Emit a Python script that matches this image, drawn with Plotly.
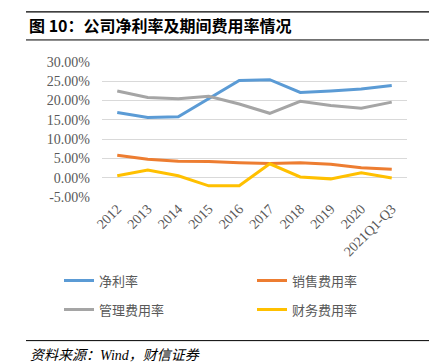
import plotly.graph_objects as go

categories = ["2012", "2013", "2014", "2015", "2016", "2017", "2018", "2019", "2020", "2021Q1-Q3"]
net_margin = [16.9, 15.6, 15.8, 20.5, 25.2, 25.4, 22.1, 22.5, 23.0, 23.9]
sales_exp = [5.8, 4.8, 4.3, 4.2, 3.9, 3.7, 3.9, 3.5, 2.6, 2.2]
admin_exp = [22.5, 20.8, 20.5, 21.1, 19.1, 16.7, 19.8, 18.7, 18.0, 19.6]
fin_exp = [0.5, 2.0, 0.5, -2.1, -2.1, 3.6, 0.2, -0.3, 1.3, -0.1]
y_ticks = [-5, 0, 5, 10, 15, 20, 25, 30]

W, H = 437, 364
L, R, T, B = 94, 399, 54, 188.7
pw, ph = R - L, B - T

def px(x):
    return (x - L) / pw

def py(y):
    return (B - y) / ph

serif = "Liberation Serif, Times New Roman, Noto Sans CJK SC, serif"
cjk = "Noto Sans CJK SC, sans-serif"

fig = go.Figure()
series = [
    ("净利率", net_margin, "#5B9BD5", "legend"),
    ("销售费用率", sales_exp, "#ED7D31", "legend"),
    ("管理费用率", admin_exp, "#A5A5A5", "legend2"),
    ("财务费用率", fin_exp, "#FFC000", "legend2"),
]
for name, vals, col, lg in series:
    fig.add_trace(go.Scatter(x=categories, y=vals, mode="lines", name=name,
                             line=dict(color=col, width=3), legend=lg))

legend_common = dict(orientation="h", xanchor="left", yanchor="middle",
                     entrywidth=148, entrywidthmode="pixels",
                     font=dict(family=cjk, size=13, color="#595959"),
                     bgcolor="rgba(0,0,0,0)", borderwidth=0, itemwidth=30,
                     tracegroupgap=0)
fig.update_layout(
    width=W, height=H,
    margin=dict(l=L, r=W - R, t=T, b=H - B, pad=0),
    paper_bgcolor="white", plot_bgcolor="white",
    showlegend=True,
    legend=dict(x=px(70), y=py(272), **legend_common),
    legend2=dict(x=px(70), y=py(301), **legend_common),
    xaxis=dict(type="category", showgrid=False, showline=False, ticks="",
               tickangle=-45, tickfont=dict(family=serif, size=14, color="#595959"),
               range=[-0.5, len(categories) - 0.5], fixedrange=True),
    yaxis=dict(range=[-5, 30], tickvals=y_ticks,
               ticktext=[f"{v:.2f}%" for v in y_ticks],
               showgrid=True, gridcolor="#D9D9D9", gridwidth=1, zeroline=False,
               showline=False, ticks="", ticklabelstandoff=11,
               tickfont=dict(family=serif, size=14, color="#595959"), fixedrange=True),
)

# decorative rules
for yy in [4, 32, 332]:
    fig.add_shape(type="line", xref="paper", yref="paper",
                  x0=px(18), x1=px(422), y0=py(yy), y1=py(yy),
                  line=dict(color="black", width=1.2 if yy == 4 else 1))

fig.add_annotation(text="<b>图 10：公司净利率及期间费用率情况</b>", xref="paper", yref="paper",
                   x=px(19), y=py(17), xanchor="left", yanchor="middle", showarrow=False,
                   font=dict(family=cjk, size=16, color="black"))
fig.add_annotation(text="<i>资料来源：Wind，财信证券</i>", xref="paper", yref="paper",
                   x=px(20), y=py(347), xanchor="left", yanchor="middle", showarrow=False,
                   font=dict(family=serif, size=14, color="black"))

fig.write_html("out.html")
